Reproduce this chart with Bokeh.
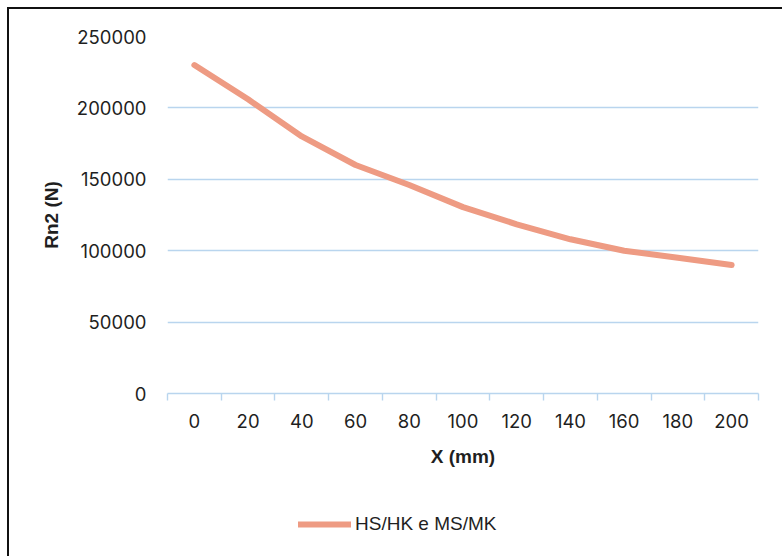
from bokeh.plotting import figure
from bokeh.layouts import column
from bokeh.models import Legend, LegendItem, FixedTicker, NumeralTickFormatter, ColumnDataSource, Range1d
from bokeh.embed import file_html
from bokeh.resources import INLINE

# ---- data ----
x_mm = [0, 20, 40, 60, 80, 100, 120, 140, 160, 180, 200]
rn2 = [230000, 206000, 180000, 160000, 146000, 130500, 118500, 108000, 100000, 95000, 90000]
y_ticks = [0, 50000, 100000, 150000, 200000, 250000]
series_name = "HS/HK e MS/MK"
x_title = "X (mm)"
y_title = "Rn2 (N)"

FONT = "Liberation Sans"
NUMFONT = "Inter"
GRID = "#B9D5EE"
LINE = "#EE9B83"
TXT = "#1f1f1f"

OX, OY = 9, 9               # content origin inside the bordered chart area
W = 773
H1, H2 = 471, 76
FL, FR, FT, FB = 167, 758, 36, 393
p = figure(width=W, height=H1, x_range=(-10, 210), y_range=(0, 250000),
           output_backend="svg", toolbar_location=None,
           min_border_left=FL - OX, min_border_right=W - (FR - OX), min_border_top=FT - OY,
           min_border_bottom=H1 - (FB - OY))
p.outline_line_color = None
p.background_fill_color = "white"
p.border_fill_color = "white"

src = ColumnDataSource(dict(x=x_mm, y=rn2))
p.line("x", "y", source=src, line_color=LINE, line_width=6, line_cap="round", line_join="round")

# grid
p.xgrid.visible = False
p.ygrid.ticker = FixedTicker(ticks=y_ticks)
p.ygrid.grid_line_color = GRID
p.ygrid.grid_line_width = 1.4

# x axis (category-style ticks at boundaries)
step = x_mm[1] - x_mm[0]
bounds = [v - step / 2 for v in x_mm] + [x_mm[-1] + step / 2]
xa = p.xaxis[0]
xa.ticker = FixedTicker(ticks=x_mm, minor_ticks=bounds)
xa.axis_line_color = GRID
xa.axis_line_width = 1.4
xa.major_tick_line_color = None
xa.major_tick_out = 7
xa.major_tick_in = 0
xa.minor_tick_line_color = GRID
xa.minor_tick_line_width = 1.4
xa.minor_tick_out = 7
xa.minor_tick_in = 0
xa.major_label_standoff = 13
xa.major_label_text_font = NUMFONT
xa.major_label_text_font_size = "18.5px"
xa.major_label_text_color = TXT
xa.axis_label = x_title
xa.axis_label_text_font = FONT
xa.axis_label_text_font_size = "19px"
xa.axis_label_text_font_style = "bold"
xa.axis_label_text_color = TXT
xa.axis_label_standoff = 15

ya = p.yaxis[0]
ya.ticker = FixedTicker(ticks=y_ticks)
ya.formatter = NumeralTickFormatter(format="0")
ya.axis_line_color = None
ya.major_tick_line_color = None
ya.minor_tick_line_color = None
ya.major_tick_out = 0
ya.major_tick_in = 0
ya.major_label_standoff = 21
ya.major_label_text_font = NUMFONT
ya.major_label_text_font_size = "18.5px"
ya.major_label_text_color = TXT
ya.axis_label = y_title
ya.axis_label_text_font = FONT
ya.axis_label_text_font_size = "19px"
ya.axis_label_text_font_style = "bold"
ya.axis_label_text_color = TXT
ya.axis_label_standoff = 12

# legend strip (its frame is aligned with the main plot's frame by the column)
q = figure(width=W, height=H2, x_range=Range1d(0, 1), y_range=Range1d(0, 1),
           output_backend="svg", toolbar_location=None,
           x_axis_location=None, y_axis_location=None,
           min_border_left=0, min_border_right=0, min_border_top=0, min_border_bottom=0)
q.outline_line_color = None
q.xgrid.visible = False
q.ygrid.visible = False
q.background_fill_color = "white"
q.border_fill_color = "white"
# key renderer: styled like the series, its points lie outside the strip's view
lr = q.line(x=[5, 6], y=[5, 6], line_color=LINE, line_width=6, line_cap="round")
legend = Legend(items=[LegendItem(label=series_name, renderers=[lr])],
                location=(303 - FL - 5, 21), orientation="horizontal",
                border_line_color=None, background_fill_alpha=0,
                label_text_font=FONT, label_text_font_size="19px", label_text_color=TXT,
                glyph_width=53, glyph_height=20, label_standoff=4, padding=5, margin=0)
q.add_layout(legend, "center")

layout = column(p, q, spacing=0, margin=(7, 0, 0, 7),
                styles={"border-top": "2px solid #111", "border-left": "2px solid #111",
                        "background": "white"})

open("out.html", "w").write(file_html(layout, INLINE))
